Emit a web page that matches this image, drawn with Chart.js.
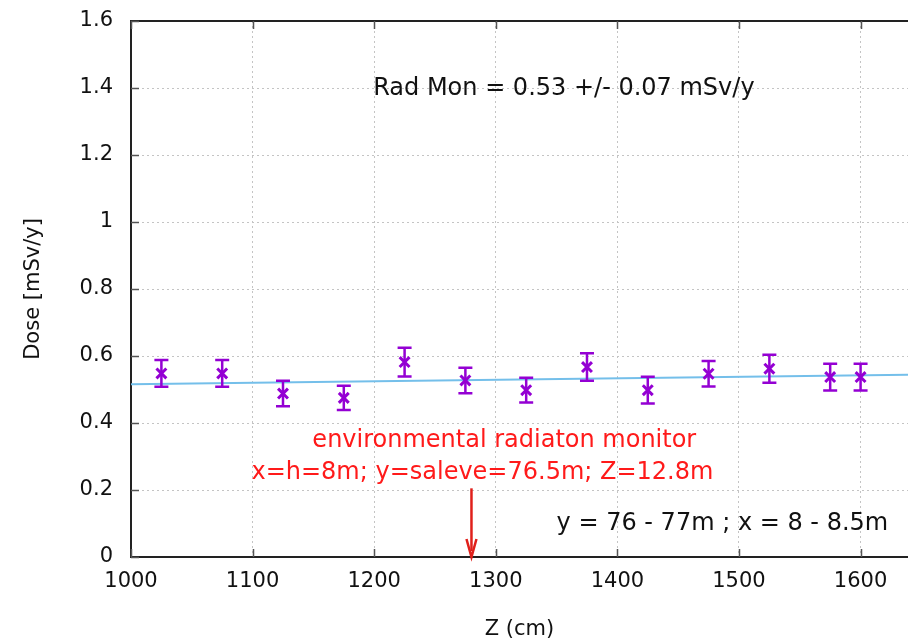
<!DOCTYPE html>
<html>
<head>
<meta charset="utf-8">
<script src="https://cdn.jsdelivr.net/npm/chart.js@4/dist/chart.umd.min.js"></script>
<style>
  html, body { margin: 0; padding: 0; background: #fff; overflow: hidden; }
  #wrap { width: 908px; height: 638px; overflow: hidden; }
</style>
</head>
<body>
<div id="wrap"><canvas id="doseChart" width="918" height="638"></canvas></div>
<script>
// measured points
const zPos = [1025, 1075, 1125, 1175, 1225, 1275, 1325, 1375, 1425, 1475, 1525, 1575, 1600];
const dose = [0.548, 0.548, 0.488, 0.475, 0.582, 0.527, 0.498, 0.567, 0.498, 0.547, 0.562, 0.537, 0.537];
const doseErr = [0.040, 0.040, 0.038, 0.036, 0.043, 0.038, 0.037, 0.041, 0.040, 0.038, 0.042, 0.040, 0.040];

// linear fit
const fitZ = [1000, 1639];
const fitDose = [0.516, 0.544];

// radiation monitor position
const monitorZ = 1280;
const monitorArrowTop = 0.205;

const xTicks = [1000, 1100, 1200, 1300, 1400, 1500, 1600];
const yTicks = [0, 0.2, 0.4, 0.6, 0.8, 1, 1.2, 1.4, 1.6];

const FONT = 'DejaVu Sans';
const PURPLE = '#9400d3';
const ctx = document.getElementById('doseChart').getContext('2d');

const extras = {
    id: 'extras',
    beforeDatasetsDraw(chart) {
        const c = chart.ctx, a = chart.chartArea;
        const xs = chart.scales.x, ys = chart.scales.y;
        c.save();
        // top border
        c.strokeStyle = '#222';
        c.lineWidth = 2;
        c.beginPath();
        c.moveTo(a.left - 1, a.top);
        c.lineTo(a.right, a.top);
        c.stroke();
        // inward ticks
        c.strokeStyle = '#555';
        c.lineWidth = 1.5;
        xTicks.forEach(v => {
            const px = Math.round(xs.getPixelForValue(v)) + 0.5;
            c.beginPath();
            c.moveTo(px, a.bottom); c.lineTo(px, a.bottom - 8);
            c.moveTo(px, a.top); c.lineTo(px, a.top + 8);
            c.stroke();
        });
        yTicks.forEach(v => {
            const py = Math.round(ys.getPixelForValue(v)) + 0.5;
            c.beginPath();
            c.moveTo(a.left, py); c.lineTo(a.left + 8, py);
            c.stroke();
        });
        c.restore();
    },
    afterDatasetsDraw(chart) {
        const c = chart.ctx;
        const xs = chart.scales.x, ys = chart.scales.y;
        c.save();
        // error bars
        c.strokeStyle = PURPLE;
        c.lineWidth = 2.5;
        zPos.forEach((z, i) => {
            const px = xs.getPixelForValue(z);
            const top = ys.getPixelForValue(dose[i] + doseErr[i]);
            const bot = ys.getPixelForValue(dose[i] - doseErr[i]);
            c.beginPath();
            c.moveTo(px, top); c.lineTo(px, bot);
            c.moveTo(px - 7, top); c.lineTo(px + 7, top);
            c.moveTo(px - 7, bot); c.lineTo(px + 7, bot);
            c.stroke();
        });

        // annotations
        c.font = '24px "' + FONT + '"';
        c.textAlign = 'center';
        c.textBaseline = 'middle';
        c.fillStyle = '#111';
        c.fillText('Rad Mon = 0.53 +/- 0.07 mSv/y', xs.getPixelForValue(1356), ys.getPixelForValue(1.397));
        c.textAlign = 'left';
        c.fillText('y = 76 - 77m ; x = 8 - 8.5m', xs.getPixelForValue(1350), ys.getPixelForValue(0.1));

        c.fillStyle = '#ff1a1a';
        c.textAlign = 'center';
        c.fillText('environmental radiaton monitor', xs.getPixelForValue(1307), ys.getPixelForValue(0.348));
        c.fillText('x=h=8m; y=saleve=76.5m; Z=12.8m', xs.getPixelForValue(1289), ys.getPixelForValue(0.25));

        // arrow
        const ax = xs.getPixelForValue(monitorZ);
        const aTop = ys.getPixelForValue(monitorArrowTop);
        const aBot = ys.getPixelForValue(0);
        c.strokeStyle = '#e0201b';
        c.fillStyle = '#e0201b';
        c.lineWidth = 2.5;
        c.beginPath();
        c.moveTo(ax, aTop); c.lineTo(ax, aBot - 6);
        c.stroke();
        c.beginPath();
        c.moveTo(ax - 5, aBot - 18);
        c.lineTo(ax, aBot);
        c.lineTo(ax + 5, aBot - 18);
        c.stroke();
        c.restore();
    }
};

new Chart(ctx, {
    type: 'scatter',
    data: {
        datasets: [
            {
                label: 'fit',
                type: 'line',
                data: fitZ.map((z, i) => ({ x: z, y: fitDose[i] })),
                borderColor: '#74bfea',
                borderWidth: 2,
                pointRadius: 0,
                fill: false,
                order: 2,
            },
            {
                label: 'Dose',
                data: zPos.map((z, i) => ({ x: z, y: dose[i] })),
                pointStyle: 'crossRot',
                pointRadius: 7,
                borderColor: PURPLE,
                backgroundColor: PURPLE,
                pointBorderWidth: 3,
                order: 1,
            },
        ],
    },
    options: {
        responsive: false,
        animation: false,
        layout: { padding: { top: 21, right: 0, left: 0, bottom: 0 } },
        plugins: { legend: { display: false }, tooltip: { enabled: false } },
        scales: {
            x: {
                type: 'linear',
                min: 1000,
                max: 1639,
                afterBuildTicks: s => { s.ticks = xTicks.map(v => ({ value: v })); },
                afterFit: s => { s.height = 81; s.paddingLeft = 0; s.paddingRight = 0; },
                grid: { color: '#c4c4c4', drawTicks: false, lineWidth: 1 },
                border: { display: true, color: '#222', width: 2, dash: [2, 3] },
                ticks: { padding: 12, color: '#111', font: { family: FONT, size: 21 }, maxRotation: 0,
                         callback: v => String(v) },
                title: { display: true, text: 'Z (cm)', color: '#111', font: { family: FONT, size: 21 }, padding: { top: 0, bottom: -4 } },
            },
            y: {
                min: 0,
                max: 1.6,
                afterBuildTicks: s => { s.ticks = yTicks.map(v => ({ value: v })); },
                afterFit: s => { s.width = 131; s.paddingTop = 0; s.paddingBottom = 0; },
                grid: { color: '#c4c4c4', drawTicks: false, lineWidth: 1 },
                border: { display: true, color: '#222', width: 2, dash: [2, 3] },
                ticks: { padding: 18, color: '#111', font: { family: FONT, size: 21 },
                         callback: v => String(Math.round(v * 10) / 10) },
                title: { display: true, text: 'Dose [mSv/y]', color: '#111', font: { family: FONT, size: 21 }, padding: { top: 21, bottom: 0 } },
            },
        },
    },
    plugins: [extras],
});
</script>
</body>
</html>
